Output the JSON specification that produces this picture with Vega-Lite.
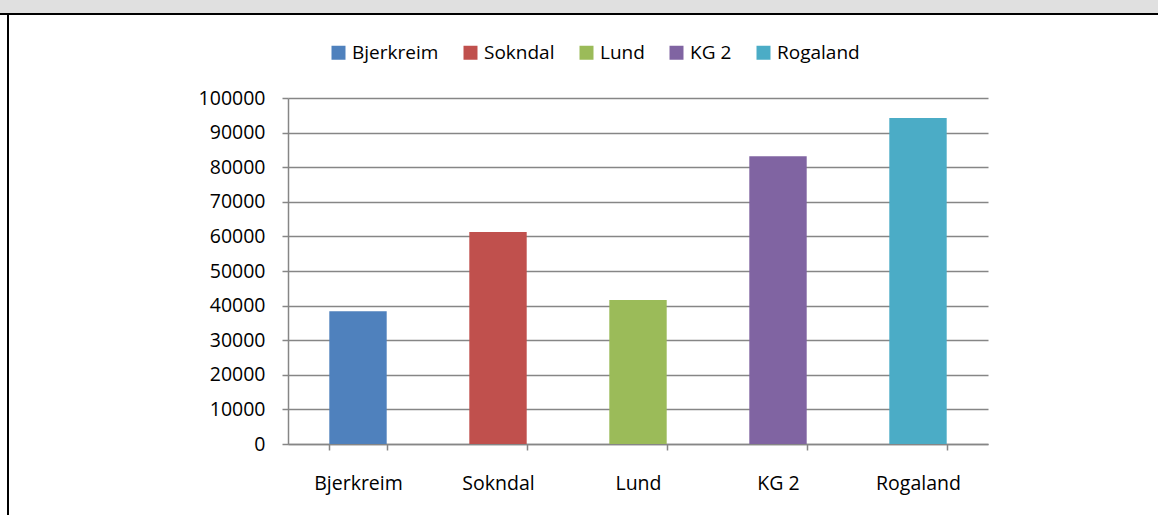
{
  "$schema": "https://vega.github.io/schema/vega-lite/v6.json",
  "padding": 0,
  "background": "white",
  "spacing": 0,
  "bounds": "flush",
  "vconcat": [
    {
      "width": 1158, "height": 13,
      "data": {"values": [{}]},
      "mark": {"type": "point", "opacity": 0},
      "encoding": {},
      "view": {"fill": "#e0e0e0", "stroke": null}
    },
    {
      "width": 1158, "height": 2,
      "data": {"values": [{}]},
      "mark": {"type": "point", "opacity": 0},
      "encoding": {},
      "view": {"fill": "#000000", "stroke": null}
    },
    {
      "spacing": 0,
      "bounds": "flush",
      "hconcat": [
        {
          "width": 7, "height": 500,
          "data": {"values": [{}]},
          "mark": {"type": "point", "opacity": 0},
          "encoding": {},
          "view": {"fill": "#ffffff", "stroke": null}
        },
        {
          "width": 2, "height": 500,
          "data": {"values": [{}]},
          "mark": {"type": "point", "opacity": 0},
          "encoding": {},
          "view": {"fill": "#000000", "stroke": null}
        },
        {
          "width": 279, "height": 500,
          "data": {"values": [{}]},
          "mark": {"type": "point", "opacity": 0},
          "encoding": {},
          "view": {"fill": "#ffffff", "stroke": null}
        },
        {
          "spacing": 0,
          "bounds": "flush",
          "vconcat": [
            {
              "width": 700, "height": 83,
              "data": {"values": [{}]},
              "mark": {"type": "point", "opacity": 0},
              "encoding": {},
              "view": {"fill": "#ffffff", "stroke": null}
            },
            {
              "width": 700,
              "height": 346,
              "data": {"values": [
                {"kommune": "Bjerkreim", "verdi": 38400},
                {"kommune": "Sokndal", "verdi": 61300},
                {"kommune": "Lund", "verdi": 41600},
                {"kommune": "KG 2", "verdi": 83200},
                {"kommune": "Rogaland", "verdi": 94200}
              ]},
              "mark": {"type": "bar"},
              "encoding": {
                "x": {
                  "field": "kommune", "type": "nominal", "sort": null,
                  "scale": {"paddingInner": 0.59, "paddingOuter": 0.295},
                  "axis": {
                    "title": null, "labelAngle": 0, "tickBand": "extent",
                    "tickSize": 6, "tickColor": "#868686", "tickWidth": 1.5,
                    "domainColor": "#868686", "domainWidth": 1.5,
                    "labelPadding": 24, "labelFont": "Open Sans", "labelFontSize": 19.5,
                    "labelColor": "#000000", "grid": false
                  }
                },
                "y": {
                  "field": "verdi", "type": "quantitative",
                  "scale": {"domain": [0, 100000], "nice": false},
                  "axis": {
                    "title": null, "values": [0, 10000, 20000, 30000, 40000, 50000, 60000, 70000, 80000, 90000, 100000],
                    "format": "d", "grid": true, "gridColor": "#868686", "gridWidth": 1.5,
                    "tickSize": 6, "tickColor": "#868686", "tickWidth": 1.5,
                    "domainColor": "#868686", "domainWidth": 1.5,
                    "labelPadding": 17, "labelFont": "Open Sans", "labelFontSize": 19.5,
                    "labelColor": "#000000"
                  }
                },
                "color": {
                  "field": "kommune", "type": "nominal", "sort": null,
                  "scale": {
                    "domain": ["Bjerkreim", "Sokndal", "Lund", "KG 2", "Rogaland"],
                    "range": ["#4F81BD", "#C0504D", "#9BBB59", "#8064A2", "#4BACC6"]
                  },
                  "legend": {
                    "title": null, "orient": "none", "direction": "horizontal",
                    "legendX": 329, "legendY": 43,
                    "symbolType": "square", "symbolSize": 196, "symbolStrokeWidth": 0,
                    "symbolOpacity": 1,
                    "labelFont": "Open Sans", "labelFontSize": 19, "labelColor": "#000000",
                    "labelOffset": 4, "columnPadding": 22, "padding": 0
                  }
                }
              },
              "view": {"stroke": null}
            }
          ]
        }
      ]
    }
  ],
  "config": {"view": {"stroke": null}}
}
